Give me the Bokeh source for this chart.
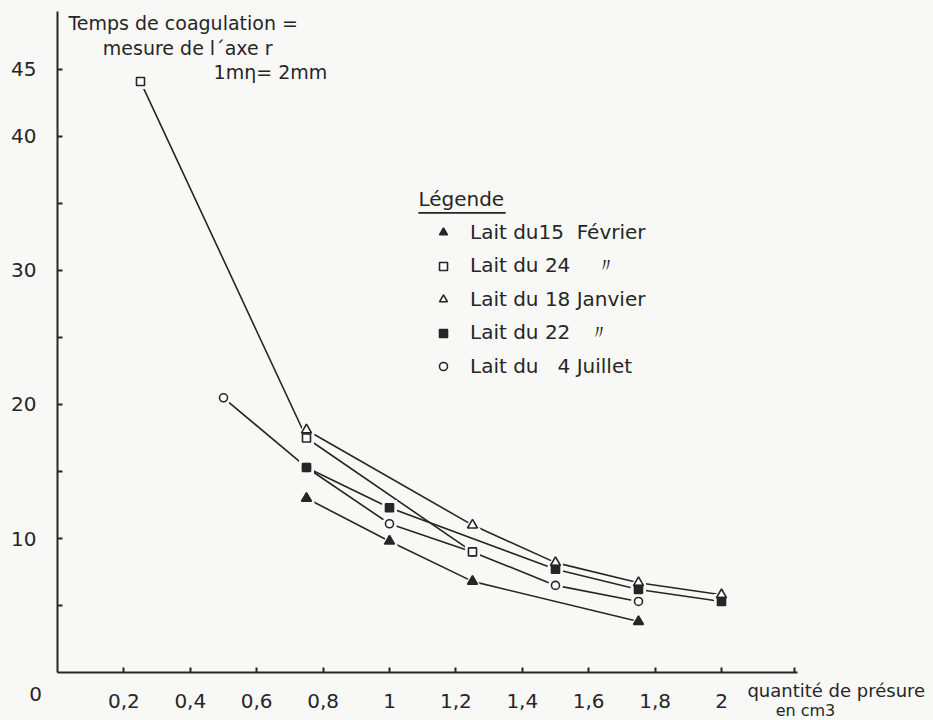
from bokeh.plotting import figure
from bokeh.models import Label, Legend, LegendItem, FixedTicker, Range1d, LinearAxis
from bokeh.embed import file_html
from bokeh.resources import INLINE

# ---- data ----
x_feb15 = [0.75, 1.0, 1.25, 1.75]
y_feb15 = [13.0, 9.8, 6.8, 3.8]

x_feb24 = [0.25, 0.75, 1.25]
y_feb24 = [44.1, 17.5, 9.0]

x_jan18 = [0.75, 1.25, 1.5, 1.75, 2.0]
y_jan18 = [18.1, 11.0, 8.2, 6.7, 5.8]

x_jan22 = [0.75, 1.0, 1.5, 1.75, 2.0]
y_jan22 = [15.3, 12.3, 7.7, 6.2, 5.3]

x_jul4 = [0.5, 0.75, 1.0, 1.25, 1.5, 1.75]
y_jul4 = [20.5, 15.3, 11.1, 9.0, 6.5, 5.3]

labels = ["Lait du15\u00a0 Février",
          "Lait du 24 \u00a0\u00a0 〃",
          "Lait du 18 Janvier",
          "Lait du 22 \u00a0 〃",
          "Lait du \u00a0 4 Juillet"]

x_ticks = [0.2, 0.4, 0.6, 0.8, 1.0, 1.2, 1.4, 1.6, 1.8, 2.0, 2.22]
x_tick_labels = ["0,2", "0,4", "0,6", "0,8", "1", "1,2", "1,4", "1,6", "1,8", "2", ""]
y_ticks = [5, 10, 15, 20, 25, 30, 35, 40, 45]
y_tick_labels = ["", "10", "", "20", "", "30", "", "40", "45"]

FONT = "DejaVu Sans"
INK = "#262626"
PAPER = "#f8f8f6"

p = figure(width=933, height=720,
           x_range=Range1d(-0.1717, 2.6386), y_range=Range1d(-3.582, 50.149),
           output_backend="svg", toolbar_location=None,
           x_axis_location=None, y_axis_location=None, min_border=0)
p.background_fill_color = PAPER
p.border_fill_color = PAPER
p.outline_line_color = None
p.grid.visible = False

xaxis = LinearAxis(fixed_location=0, bounds=(0, 2.23), ticker=FixedTicker(ticks=x_ticks),
                   major_label_overrides=dict(zip(x_ticks, x_tick_labels)),
                   major_label_standoff=21)
yaxis = LinearAxis(fixed_location=0, bounds=(0, 49.3), ticker=FixedTicker(ticks=y_ticks),
                   major_label_overrides=dict(zip(y_ticks, y_tick_labels)),
                   major_label_standoff=21)
for ax in (xaxis, yaxis):
    ax.axis_line_color = INK
    ax.axis_line_width = 2
    ax.major_tick_line_color = INK
    ax.major_tick_line_width = 2
    ax.major_tick_in = 5
    ax.major_tick_out = 0
    ax.minor_tick_line_color = None
    ax.major_label_text_font = FONT
    ax.major_label_text_color = INK
    ax.major_label_text_font_size = "20px"
p.add_layout(xaxis, "below")
p.add_layout(yaxis, "left")

series = [
    (x_jul4, y_jul4, "circle", "white", 8),
    (x_feb15, y_feb15, "triangle", INK, 10),
    (x_feb24, y_feb24, "square", "white", 8),
    (x_jan18, y_jan18, "triangle", "white", 10),
    (x_jan22, y_jan22, "square", INK, 8),
]
legend_order = [1, 2, 3, 4, 0]

for xs, ys, m, f, s in series:
    p.line(xs, ys, line_color=INK, line_width=1.6)
for xs, ys, m, f, s in series:
    p.scatter(xs, ys, marker=m, size=s + 7, fill_color=PAPER, line_color=None)
marks = []
for xs, ys, m, f, s in series:
    r = p.scatter(xs, ys, marker=m, size=s, fill_color=f, line_color=INK, line_width=1.6)
    marks.append(r)

legend = Legend(items=[LegendItem(label=labels[i], renderers=[marks[j]])
                       for i, j in enumerate(legend_order)],
                location=(433, 342), orientation="vertical",
                glyph_width=20, glyph_height=20, label_height=20, spacing=8,
                label_standoff=17, padding=0, margin=0,
                border_line_color=None, background_fill_alpha=0,
                label_text_font=FONT, label_text_font_size="20px", label_text_color=INK)
p.add_layout(legend, "center")

def lab(x, y, t, size, align="left"):
    p.add_layout(Label(x=x, y=y, text=t, text_font=FONT, text_font_size=size,
                       text_color=INK, text_align=align, text_baseline="middle"))

lab(0.033, 48.5, "Temps de coagulation =", "19px")
lab(0.392, 46.6, "mesure de l\u00b4axe r", "19px", "center")
lab(0.47, 44.8, "1m\u03b7= 2mm", "19px")
lab(1.087, 35.3, "Légende", "20px")
p.segment(x0=[1.087], y0=[34.3], x1=[1.35], y1=[34.3], line_color=INK, line_width=1.6)
lab(-0.066, -1.64, "0", "20px", "center")
lab(2.078, -1.38, "quantité de présure", "18px")
lab(2.253, -2.84, "en cm3", "16px", "center")

open("out.html", "w").write(file_html(p, INLINE))
